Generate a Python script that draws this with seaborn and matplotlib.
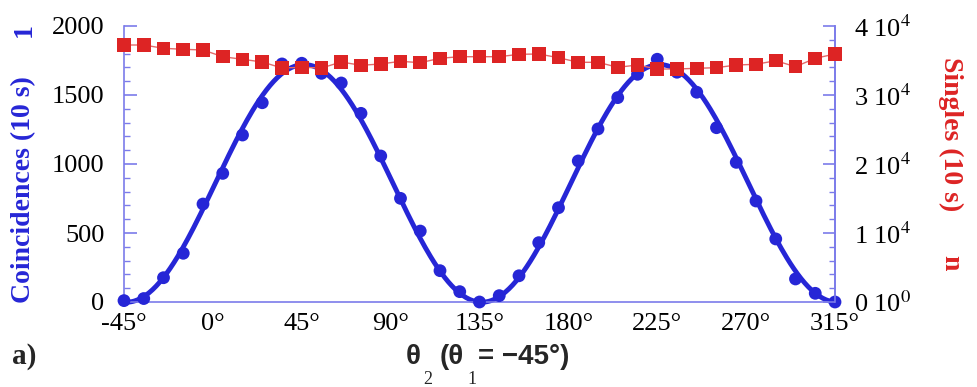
import numpy as np
import pandas as pd
import matplotlib
matplotlib.use("Agg")
import matplotlib.pyplot as plt
import seaborn as sns
from matplotlib.ticker import MultipleLocator, FixedLocator

# ---- data ----
angles = [-45, -35, -25, -15, -5, 5, 15, 25, 35, 45, 55, 65, 75, 85, 95, 105, 115, 125,
          135, 145, 155, 165, 175, 185, 195, 205, 215, 225, 235, 245, 255, 265, 275, 285,
          295, 305, 315]
coincidences = [10, 25, 176, 353, 710, 932, 1210, 1444, 1725, 1730, 1657, 1587, 1367, 1058,
                751, 514, 227, 75, 0, 46, 190, 430, 683, 1022, 1254, 1481, 1650, 1759, 1665,
                1520, 1263, 1012, 732, 457, 167, 63, 0]
singles = [37246, 37246, 36768, 36623, 36522, 35551, 35174, 34783, 33913, 34014, 33913,
           34783, 34304, 34493, 34884, 34681, 35319, 35551, 35551, 35551, 35899, 35942,
           35406, 34739, 34739, 34014, 34348, 33768, 33768, 33870, 33957, 34348, 34449,
           34971, 34101, 35319, 35942]
x_ticks = [-45, 0, 45, 90, 135, 180, 225, 270, 315]
x_tick_labels = ["-45°", "0°", "45°", "90°", "135°", "180°", "225°", "270°", "315°"]
left_ticks = [0, 500, 1000, 1500, 2000]
right_ticks = [0, 10000, 20000, 30000, 40000]
right_tick_labels = [r"0 10$^{0}$", r"1 10$^{4}$", r"2 10$^{4}$", r"3 10$^{4}$", r"4 10$^{4}$"]

df = pd.DataFrame({"angle": angles, "coinc": coincidences, "singles": singles})

# least-squares fit of a + b cos(2x) + c sin(2x) to the coincidence data
th = np.deg2rad(df["angle"].values)
M = np.column_stack([np.ones_like(th), np.cos(2 * th), np.sin(2 * th)])
coef, *_ = np.linalg.lstsq(M, df["coinc"].values, rcond=None)
xf = np.linspace(-45, 315, 400)
tf = np.deg2rad(xf)
fit = pd.DataFrame({"angle": xf,
                    "coinc": coef[0] + coef[1] * np.cos(2 * tf) + coef[2] * np.sin(2 * tf)})

# ---- style ----
sns.set_style("white")
plt.rcParams["font.family"] = ["Liberation Serif", "DejaVu Serif"]
plt.rcParams["mathtext.fontset"] = "stix"

BLUE = "#2626d6"
RED = "#dd2424"
AX = "#7b7bea"

W, H = 977, 387
fig = plt.figure(figsize=(W / 100, H / 100), dpi=100)
L, R, T, B = 124, 835, 26, 302
ax = fig.add_axes([L / W, 1 - B / H, (R - L) / W, (B - T) / H])

sns.lineplot(data=fit, x="angle", y="coinc", ax=ax, color=BLUE, linewidth=3.5,
             clip_on=False, zorder=2)
sns.scatterplot(data=df, x="angle", y="coinc", ax=ax, color=BLUE, s=85,
                edgecolor="none", clip_on=False, zorder=3)

ax.set_xlim(-45, 315)
ax.set_ylim(0, 2000)
ax.set_xlabel("")
ax.set_ylabel("")
ax.xaxis.set_major_locator(FixedLocator(x_ticks))
ax.set_xticklabels(x_tick_labels)
ax.xaxis.set_minor_locator(MultipleLocator(11.25))
ax.yaxis.set_major_locator(FixedLocator(left_ticks))
ax.set_yticklabels([str(v) for v in left_ticks])
ax.yaxis.set_minor_locator(MultipleLocator(100))

ax.spines["top"].set_visible(False)
for s in ["left", "bottom", "right"]:
    ax.spines[s].set_color(AX)
    ax.spines[s].set_linewidth(1.2)

ax.tick_params(axis="both", which="both", direction="in", colors=AX, labelcolor="black")
ax.tick_params(axis="x", which="major", length=9, width=1.2, labelsize=19, pad=8)
ax.tick_params(axis="x", which="minor", length=5, width=1.0)
ax.tick_params(axis="y", which="major", length=9, width=1.2, labelsize=19, pad=14)
ax.tick_params(axis="y", which="minor", length=4.5, width=1.0)

ax2 = ax.twinx()
sns.lineplot(data=df, x="angle", y="singles", ax=ax2, color="#e46a6a", linewidth=1.0,
             clip_on=False, zorder=2)
sns.scatterplot(data=df, x="angle", y="singles", ax=ax2, color=RED, marker="s", s=95,
                edgecolor="none", clip_on=False, zorder=3)
ax2.set_ylim(0, 40000)
ax2.set_xlim(-45, 315)
ax2.set_ylabel("")
ax2.set_xlabel("")
ax2.yaxis.set_major_locator(FixedLocator(right_ticks))
ax2.set_yticklabels(right_tick_labels)
ax2.yaxis.set_minor_locator(MultipleLocator(2000))
for s in ["top", "left", "bottom"]:
    ax2.spines[s].set_visible(False)
ax2.spines["right"].set_color(AX)
ax2.spines["right"].set_linewidth(1.2)
ax2.tick_params(axis="y", which="both", direction="in", colors=AX, labelcolor="black")
ax2.tick_params(axis="y", which="major", length=9, width=1.2, labelsize=19, pad=14)
ax2.tick_params(axis="y", which="minor", length=4.5, width=1.0)

def fx(x):
    return x / W

def fy(y):
    return 1 - y / H

# axis titles
fig.text(fx(24), fy(190), "Coincidences (10 s)", rotation=90, color=BLUE, fontsize=20,
         fontweight="bold", ha="center", va="center")
fig.text(fx(24), fy(30), "1", rotation=90, color=BLUE, fontsize=20, fontweight="bold",
         ha="center", va="center")
fig.text(fx(951), fy(134), "Singles (10 s)", rotation=-90, color=RED, fontsize=20,
         fontweight="bold", ha="center", va="center")
fig.text(fx(951), fy(263), "n", rotation=-90, color=RED, fontsize=20, fontweight="bold",
         ha="center", va="center")

# x label  θ2 (θ1 = −45°)
sans = ["Liberation Sans", "DejaVu Sans"]
fig.text(fx(406), fy(357), "θ", fontsize=20, fontweight="bold", family=sans,
         ha="left", va="center")
fig.text(fx(428), fy(380), "2", fontsize=13, ha="center", va="center")
fig.text(fx(440), fy(357), "(θ", fontsize=20, fontweight="bold", family=sans,
         ha="left", va="center")
fig.text(fx(472), fy(380), "1", fontsize=13, ha="center", va="center")
fig.text(fx(478), fy(357), "= \u221245°)", fontsize=20, fontweight="bold", family=sans,
         ha="left", va="center")

fig.text(fx(12), fy(356), "a)", fontsize=21, fontweight="bold", ha="left", va="center")

fig.savefig("out.png", dpi=100)
